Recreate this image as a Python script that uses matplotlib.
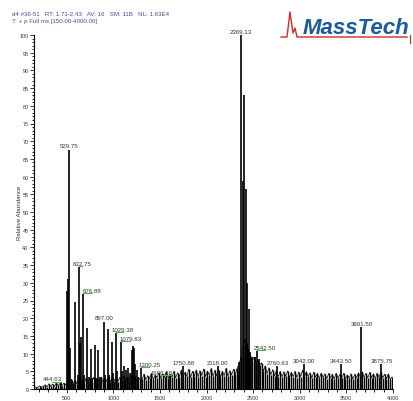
import numpy as np
import matplotlib
matplotlib.use("Agg")
import matplotlib.pyplot as plt
from matplotlib.lines import Line2D
from matplotlib.ticker import MultipleLocator

plt.rcParams['font.family'] = ['Liberation Sans', 'DejaVu Sans']

# baseline noise, sampled every 20 m/z from 150 to 3990
noise_mz = np.arange(150, 4000, 20)
noise_int = [
    0.3, 0.6, 0.4, 0.9, 0.5, 0.8, 1.2, 0.6, 1.5, 0.8, 1.4, 0.7, 1.8, 1.0, 1.6, 0.9, 1.7, 1.2,
    2.2, 1.4, 2.8, 1.6, 2.5, 1.5, 3.0, 1.7, 2.7, 1.8, 3.1, 1.6, 2.9, 2.0, 3.3, 1.7, 3.0, 2.1, 3.4, 1.9,
    3.1, 2.2, 3.6, 2.0, 3.2, 2.3, 3.5, 2.1, 3.3, 2.4, 3.8, 2.2, 3.4, 2.6, 3.9, 2.4, 3.6, 2.2, 3.3, 2.5,
    2.8, 4.2, 2.6, 3.8, 3.0, 4.4, 2.7, 4.0, 3.2, 4.6,
    3.0, 4.3, 3.3, 4.9, 3.1, 4.2, 3.4, 5.0, 3.2, 4.6,
    3.5, 5.4, 3.4, 4.8, 3.6, 5.6, 3.3, 5.0, 3.7, 5.4,
    3.4, 5.2, 3.8, 5.7, 3.5, 5.1, 3.9, 5.8, 3.6, 5.3,
    3.7, 5.5, 3.4, 5.0, 3.8, 5.9, 3.6, 5.2, 4.0, 5.6,
    4.2, 6.0, 7.0, 9.0, 12.0, 14.0, 13.0, 11.0, 9.5, 8.0, 9.0, 7.5, 8.2, 6.8, 7.4,
    5.0, 6.6, 4.3, 6.0, 4.0, 5.5, 3.7, 5.2, 3.5, 5.0,
    3.4, 4.9, 3.6, 5.1, 3.3, 4.7, 3.5, 5.0, 3.2, 4.8,
    3.5, 5.3, 3.3, 4.9, 3.6, 4.6, 3.1, 4.8, 3.4, 4.4,
    3.0, 4.5, 3.3, 4.3, 2.9, 4.4, 3.2, 4.2, 2.8, 4.5,
    3.1, 4.1, 3.0, 4.4, 2.9, 4.0, 3.1, 4.3, 2.8, 4.2,
    3.2, 4.6, 3.4, 4.9, 3.3, 4.4, 3.1, 4.7, 3.2, 4.3,
    3.0, 4.5, 3.3, 4.8, 3.1, 4.2, 2.9, 4.3, 2.7, 3.4,
]

# resolved peaks
peak_mz = [444.63, 506, 512, 529.75, 541, 560, 590, 618, 632.75, 648, 654, 676.88, 690,
           720, 735, 760, 775, 800, 820, 840, 860, 897.00, 910, 940, 955, 985, 1000,
           1029.38, 1045, 1079.63, 1095, 1120, 1140, 1160, 1180, 1205, 1212, 1222, 1235,
           1255, 1300.25, 1606.88, 1750.88, 2118.00, 2340, 2352, 2369.13, 2387, 2403,
           2421, 2438, 2452, 2470, 2490, 2520, 2542.50, 2560, 2760.63, 3042.00, 3443.50,
           3661.50, 3875.75]
peak_int = [1.8, 27.6, 31.1, 67.6, 11.5, 2.5, 24.5, 4.0, 34.4, 13.0, 14.6, 26.8, 4.0,
            17.1, 3.5, 11.3, 3.0, 12.5, 3.0, 11.1, 3.5, 19.0, 4.0, 16.9, 4.0, 13.4, 4.5,
            15.8, 5.0, 13.2, 5.0, 6.4, 5.5, 6.0, 4.5, 11.0, 12.2, 11.5, 7.0,
            5.5, 5.8, 3.6, 6.5, 6.5, 4.5, 7.5, 100.0, 58.8, 83.0,
            56.5, 30.0, 22.6, 10.4, 9.0, 9.0, 10.7, 8.5, 6.5, 7.0, 7.0,
            17.4, 7.0]

label_mz = [444.63, 529.75, 632.75, 676.88, 897.00, 1029.38, 1079.63, 1300.25, 1606.88,
            1750.88, 2118.00, 2369.13, 2542.50, 2760.63, 3042.00, 3443.50, 3661.50, 3875.75]
# horizontal shift of the label text (m/z units), linked back by a green line
label_dx = [-97, 0, 34, 97, 0, 70, 105, 85, -90, 0, 0, 0, 85, 0, 0, 0, 0, 0]

fig = plt.figure(figsize=(4.14, 4.02), dpi=100)
ax = fig.add_axes([34 / 414, 12 / 402, 359 / 414, 354 / 402])

ax.vlines(noise_mz, 0, noise_int, color="black", lw=1.0)
ax.plot(noise_mz, noise_int, color="black", lw=0.5)
ax.vlines(peak_mz, 0, peak_int, color="black", lw=1.2)

lookup = dict(zip(peak_mz, peak_int))
for mz, dx in zip(label_mz, label_dx):
    h = lookup[mz]
    ax.text(mz + dx, h + 0.4, "%.2f" % mz, ha="center", va="bottom",
            fontsize=4.4, color="#333333", clip_on=False)
    if dx != 0:
        x0, x1 = sorted([mz, mz + dx])
        ax.plot([x0, x1], [h + 0.3, h + 0.3], color="#44bb44", lw=0.8, clip_on=False)

ax.set_xlim(150, 4000)
ax.set_ylim(0, 100)
ax.spines["top"].set_visible(False)
ax.spines["right"].set_visible(False)
ax.spines["left"].set_linewidth(0.8)
ax.spines["bottom"].set_linewidth(0.8)

ax.xaxis.set_major_locator(MultipleLocator(500))
ax.xaxis.set_minor_locator(MultipleLocator(100))
ax.yaxis.set_major_locator(MultipleLocator(5))
ax.yaxis.set_minor_locator(MultipleLocator(1))
ax.tick_params(which="major", length=3, width=0.7, labelsize=3.9, colors="#333333", pad=1)
ax.tick_params(which="minor", length=1.8, width=0.6)
ax.set_ylabel("Relative Abundance", fontsize=4.4, color="#333333")
ax.yaxis.set_label_coords(-12 / 359, 0.5)

fig.text(12 / 414, 1 - 15 / 402, "d4 #36-51   RT: 1.71-2.43   AV: 16   SM: 11B   NL: 1.63E4",
         fontsize=4.4, color="#4a4aa0", va="center")
fig.text(12 / 414, 1 - 22 / 402, "T: + p Full ms [150.00-4000.00]",
         fontsize=4.4, color="#4a4aa0", va="center")

# logo
fig.text(303 / 414, 1 - 34 / 402, "MassTech", fontsize=16, fontweight="bold",
         fontstyle="italic", color="#1b5a9e", va="baseline")
lx = np.array([281, 287, 290, 293, 295, 297, 299, 407]) / 414
ly = 1 - np.array([38, 38, 13, 34, 29, 38, 38, 38]) / 402
fig.add_artist(Line2D(lx, ly, color="#cc2a2a", lw=1.0))
fig.add_artist(Line2D([410 / 414, 410 / 414], [1 - 36 / 402, 1 - 44 / 402], color="#cc2a2a", lw=0.8))

fig.savefig("out.png", dpi=100)
